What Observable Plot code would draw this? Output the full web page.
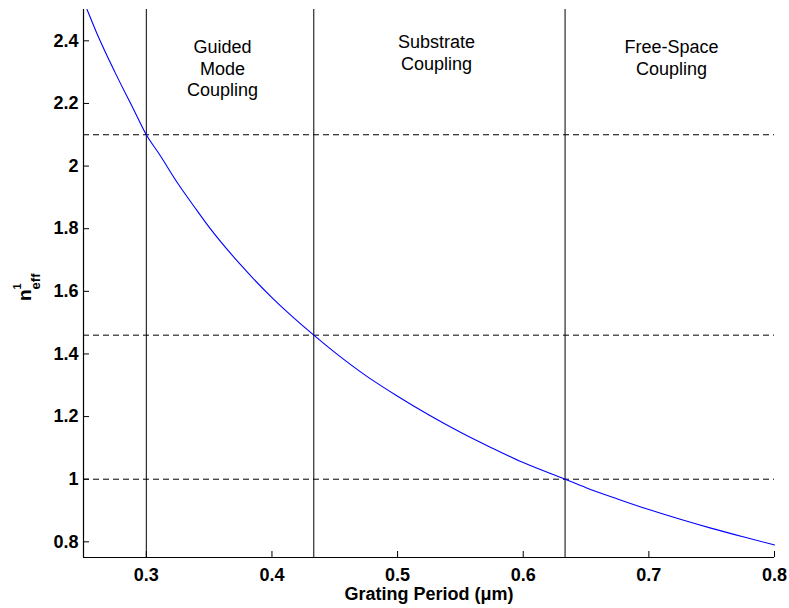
<!DOCTYPE html>
<html>
<head>
<meta charset="utf-8">
<script src="https://cdn.jsdelivr.net/npm/d3@7"></script>
<script src="https://cdn.jsdelivr.net/npm/@observablehq/plot@0.6"></script>
<style>
  html, body { margin: 0; padding: 0; background: #fff; }
  #chart svg { display: block; }
</style>
</head>
<body>
<div id="chart"></div>
<script>
// Curve: grating period (µm) vs effective index n_eff^1
const periods = [0.2528, 0.26, 0.275, 0.29, 0.30, 0.31, 0.325, 0.34, 0.35, 0.375, 0.40, 0.4333, 0.45, 0.475, 0.50, 0.525, 0.55, 0.575, 0.60, 0.6333, 0.65, 0.675, 0.70, 0.725, 0.75, 0.775, 0.80];
const neff    = [2.50,   2.43, 2.30,  2.18, 2.10, 2.04, 1.945, 1.86, 1.805, 1.685, 1.58, 1.46,   1.405, 1.33, 1.265, 1.205, 1.15, 1.10, 1.053, 1.00, 0.973, 0.937, 0.903, 0.872, 0.843, 0.816, 0.79];

// Cutoff lines
const cutoffPeriods = [0.30, 0.4333, 0.6333];
const cutoffIndices = [2.10, 1.46, 1.00];

// Region annotations
const regionNames = ["Guided\nMode\nCoupling", "Substrate\nCoupling", "Free-Space\nCoupling"];
const regionX = [0.3606, 0.531, 0.718];
const regionY = [2.41, 2.425, 2.41];

// Axes
const xDomain = [0.25, 0.80];
const yDomain = [0.75, 2.50];
const xTicks = [0.3, 0.4, 0.5, 0.6, 0.7, 0.8];
const yTicks = [0.8, 1.0, 1.2, 1.4, 1.6, 1.8, 2.0, 2.2, 2.4];
const xLabel = "Grating Period (\u03BCm)";
const yLabelMain = "n", yLabelSup = "1", yLabelSub = "eff";

const curve = periods.map((p, i) => ({period: p, n: neff[i]}));
const regions = regionNames.map((t, i) => ({text: t, x: regionX[i], y: regionY[i]}));

const FONT = '"Liberation Sans", Arial, Helvetica, sans-serif';
const yFmt = d => (Number.isInteger(d) ? String(d) : d.toFixed(1));

const chart = Plot.plot({
  width: 789,
  height: 608,
  marginLeft: 83,
  marginRight: 15,
  marginTop: 9,
  marginBottom: 51,
  style: {fontFamily: FONT, background: "#fff", color: "#000"},
  x: {domain: xDomain},
  y: {domain: yDomain},
  marks: [
    Plot.ruleY(cutoffIndices, {stroke: "#000", strokeWidth: 1, strokeDasharray: "6,4"}),
    Plot.ruleX(cutoffPeriods, {stroke: "#000", strokeWidth: 1}),
    Plot.line(curve, {x: "period", y: "n", stroke: "#0000ff", strokeWidth: 1.1, curve: "monotone-x"}),
    Plot.text(regions, {x: "x", y: "y", text: "text", lineAnchor: "top", lineHeight: 1.2, fontSize: 18, fill: "#000", fontFamily: FONT}),
    Plot.ruleX([xDomain[0]], {stroke: "#000", strokeWidth: 1.2}),
    Plot.ruleY([yDomain[0]], {stroke: "#000", strokeWidth: 1.2}),
    // tick labels
    Plot.axisX({ticks: xTicks, tickSize: 0, tickPadding: 11, tickFormat: d3.format(".1f"), label: null, fontSize: 18, fontWeight: "bold", fontFamily: FONT, fill: "#000"}),
    Plot.axisY({ticks: yTicks, tickSize: 0, tickPadding: 5, tickFormat: yFmt, label: null, fontSize: 18, fontWeight: "bold", fontFamily: FONT, fill: "#000"}),
    // inward tick marks
    Plot.axisX({ticks: xTicks, tickSize: 6, dy: -6, fill: "none", label: null, stroke: "#000"}),
    Plot.axisY({ticks: yTicks, tickSize: 6, dx: 6, fill: "none", label: null, stroke: "#000"}),
    Plot.text([xLabel], {frameAnchor: "bottom", lineAnchor: "top", dy: 30, fontSize: 18, fontWeight: "bold", fill: "#000", fontFamily: FONT})
  ]
});

document.getElementById("chart").appendChild(chart);

// Y label: n with superscript 1 and subscript eff
const svg = d3.select(chart);
const yl = svg.append("text")
  .attr("transform", "translate(31,301) rotate(-90)")
  .attr("text-anchor", "start")
  .attr("font-family", FONT)
  .attr("font-weight", "bold")
  .attr("fill", "#000");
yl.append("tspan").attr("font-size", 19).text(yLabelMain);
yl.append("tspan").attr("font-size", 11).attr("dy", -10).text(yLabelSup);
yl.append("tspan").attr("font-size", 13).attr("dx", -6.1).attr("dy", 19).text(yLabelSub);
</script>
</body>
</html>
